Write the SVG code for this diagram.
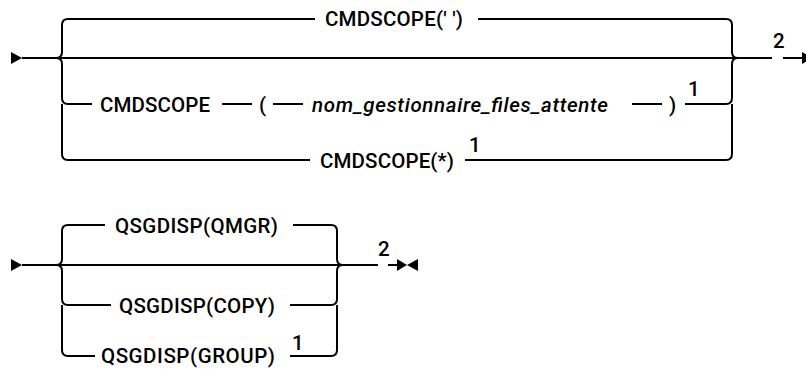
<svg xmlns="http://www.w3.org/2000/svg" width="806" height="369" viewBox="0 0 806 369">
<style>
.ln{fill:none;stroke:#000;stroke-width:2}
.t{font-family:Roboto,"Liberation Sans",Arial,sans-serif;font-size:20.5px;font-weight:500;fill:#000}
.i{font-style:italic}
.term{fill:#000}
</style>
<rect width="806" height="369" fill="#fff"/>
<g id="connectors">
<path class="ln" d="M22,58 H772 M783,58 H802"/>
<path class="ln" d="M56,58 Q62,58 62,52 V25 Q62,19 68,19 H315"/>
<path class="ln" d="M56,58 Q62,58 62,64 V98 Q62,104 68,104 H92"/>
<path class="ln" d="M62,104 V154 Q62,160 68,160 H310"/>
<path class="ln" d="M478,19 H726 Q732,19 732,25 V52 Q732,58 738,58"/>
<path class="ln" d="M685,104 H726 Q732,104 732,98 V64 Q732,58 738,58"/>
<path class="ln" d="M465,160 H726 Q732,160 732,154 V104"/>
<path class="ln" d="M222,104 H252 M273,104 H303 M632,104 H662"/>
<path class="ln" d="M22,265 H378 M388,265 H397"/>
<path class="ln" d="M56,265 Q62,265 62,259 V231 Q62,225 68,225 H105"/>
<path class="ln" d="M56,265 Q62,265 62,271 V299 Q62,305 68,305 H111"/>
<path class="ln" d="M62,305 V350 Q62,356 68,356 H95"/>
<path class="ln" d="M293,225 H331 Q337,225 337,231 V259 Q337,265 343,265"/>
<path class="ln" d="M290,305 H331 Q337,305 337,299 V271 Q337,265 343,265"/>
<path class="ln" d="M290,356 H331 Q337,356 337,350 V305"/>
<polygon class="term" points="11,52 11,64 22,58"/>
<polygon class="term" points="802,52 802,64 813,58"/>
<polygon class="term" points="11,259 11,271 22,265"/>
<polygon class="term" points="397,259 397,271 407,265 418,259 418,271 407,265"/>
</g>
<g id="n-cmdscope-blank"><text class="t" x="325" y="26" textLength="138">CMDSCOPE(' ')</text></g>
<g id="n-cmdscope"><text class="t" x="100" y="111.5" textLength="110">CMDSCOPE</text></g>
<g id="n-lparen"><text class="t" x="259" y="111.5">(</text></g>
<g id="n-qmgrname"><text class="t i" x="312" y="111.5" textLength="296">nom_gestionnaire_files_attente</text></g>
<g id="n-rparen"><text class="t" x="669" y="111.5">)</text></g>
<g id="n-note1a"><text class="t" x="688" y="96">1</text></g>
<g id="n-cmdscope-star"><text class="t" x="320" y="167.5" textLength="134">CMDSCOPE(*)</text></g>
<g id="n-note1b"><text class="t" x="469" y="152">1</text></g>
<g id="n-note2a"><text class="t" x="773" y="48">2</text></g>
<g id="n-qmgr"><text class="t" x="115" y="232.5" textLength="163">QSGDISP(QMGR)</text></g>
<g id="n-copy"><text class="t" x="119" y="312.5" textLength="156">QSGDISP(COPY)</text></g>
<g id="n-group"><text class="t" x="101" y="363" textLength="174">QSGDISP(GROUP)</text></g>
<g id="n-note1c"><text class="t" x="292" y="350">1</text></g>
<g id="n-note2b"><text class="t" x="378" y="256">2</text></g>
</svg>
